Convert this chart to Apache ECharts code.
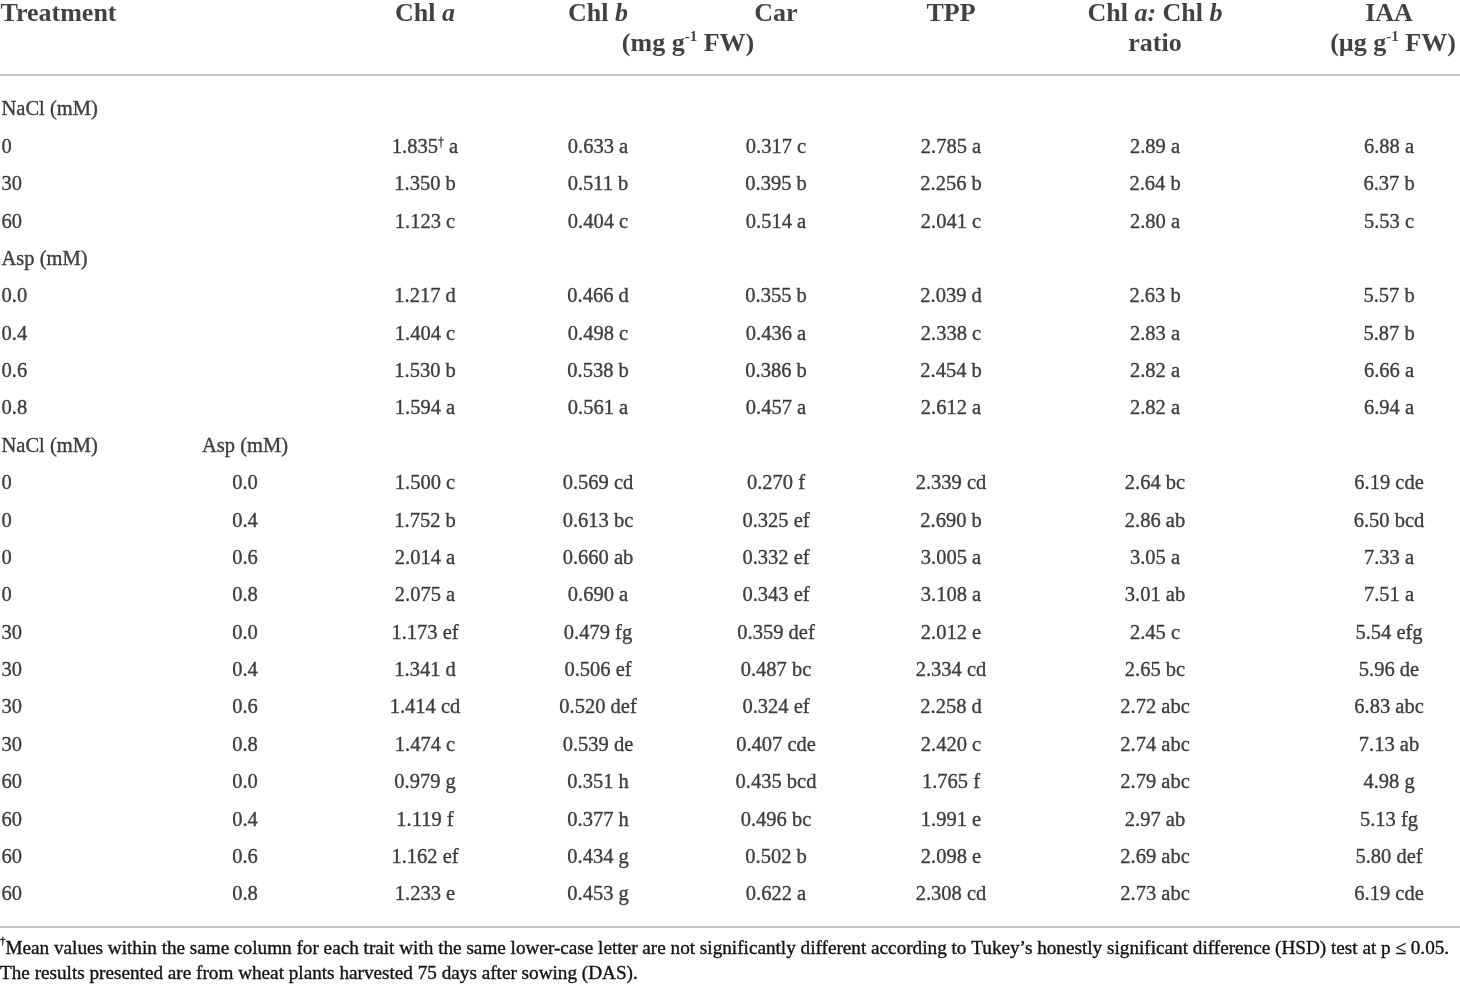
<!DOCTYPE html>
<html>
<head>
<meta charset="utf-8">
<script src="https://cdn.jsdelivr.net/npm/echarts@6/dist/echarts.min.js"></script>
<style>html,body{margin:0;padding:0;background:#fff;}</style>
</head>
<body>
<div id="main" style="width:1460px;height:986px;"></div>
<script>
// table content, one entry per body row (22 rows)
var rowLabels = ['NaCl (mM)', '0', '30', '60', 'Asp (mM)', '0.0', '0.4', '0.6', '0.8', 'NaCl (mM)',
    '0', '0', '0', '0', '30', '30', '30', '30', '60', '60', '60', '60'];
var aspLabels = ['', '', '', '', '', '', '', '', '', 'Asp (mM)',
    '0.0', '0.4', '0.6', '0.8', '0.0', '0.4', '0.6', '0.8', '0.0', '0.4', '0.6', '0.8'];

var chlA = [null, 1.835, 1.350, 1.123, null, 1.217, 1.404, 1.530, 1.594, null,
    1.500, 1.752, 2.014, 2.075, 1.173, 1.341, 1.414, 1.474, 0.979, 1.119, 1.162, 1.233];
var chlALet = ['', 'a', 'b', 'c', '', 'd', 'c', 'b', 'a', '',
    'c', 'b', 'a', 'a', 'ef', 'd', 'cd', 'c', 'g', 'f', 'ef', 'e'];

var chlB = [null, 0.633, 0.511, 0.404, null, 0.466, 0.498, 0.538, 0.561, null,
    0.569, 0.613, 0.660, 0.690, 0.479, 0.506, 0.520, 0.539, 0.351, 0.377, 0.434, 0.453];
var chlBLet = ['', 'a', 'b', 'c', '', 'd', 'c', 'b', 'a', '',
    'cd', 'bc', 'ab', 'a', 'fg', 'ef', 'def', 'de', 'h', 'h', 'g', 'g'];

var car = [null, 0.317, 0.395, 0.514, null, 0.355, 0.436, 0.386, 0.457, null,
    0.270, 0.325, 0.332, 0.343, 0.359, 0.487, 0.324, 0.407, 0.435, 0.496, 0.502, 0.622];
var carLet = ['', 'c', 'b', 'a', '', 'b', 'a', 'b', 'a', '',
    'f', 'ef', 'ef', 'ef', 'def', 'bc', 'ef', 'cde', 'bcd', 'bc', 'b', 'a'];

var tpp = [null, 2.785, 2.256, 2.041, null, 2.039, 2.338, 2.454, 2.612, null,
    2.339, 2.690, 3.005, 3.108, 2.012, 2.334, 2.258, 2.420, 1.765, 1.991, 2.098, 2.308];
var tppLet = ['', 'a', 'b', 'c', '', 'd', 'c', 'b', 'a', '',
    'cd', 'b', 'a', 'a', 'e', 'cd', 'd', 'c', 'f', 'e', 'e', 'cd'];

var ratio = [null, 2.89, 2.64, 2.80, null, 2.63, 2.83, 2.82, 2.82, null,
    2.64, 2.86, 3.05, 3.01, 2.45, 2.65, 2.72, 2.74, 2.79, 2.97, 2.69, 2.73];
var ratioLet = ['', 'a', 'b', 'a', '', 'b', 'a', 'a', 'a', '',
    'bc', 'ab', 'a', 'ab', 'c', 'bc', 'abc', 'abc', 'abc', 'ab', 'abc', 'abc'];

var iaa = [null, 6.88, 6.37, 5.53, null, 5.57, 5.87, 6.66, 6.94, null,
    6.19, 6.50, 7.33, 7.51, 5.54, 5.96, 6.83, 7.13, 4.98, 5.13, 5.80, 6.19];
var iaaLet = ['', 'a', 'b', 'c', '', 'b', 'b', 'a', 'a', '',
    'cde', 'bcd', 'a', 'a', 'efg', 'de', 'abc', 'ab', 'g', 'fg', 'def', 'cde'];

// header cells (rich text markup)
var headTop = ['{b|Treatment}', '', '{b|Chl }{bi|a}', '{b|Chl }{bi|b}', '{b|Car}', '{b|TPP}',
    '{b|Chl }{bi|a:}{b| Chl }{bi|b}', '{b|IAA}'];
var headBottom = ['', '', '', '', '', '', '{b|ratio}', '{b|(µg g}{bs|-1}{b| FW)}'];
var unitLabel = '{b|(mg g}{bs|-1}{b| FW)}';

var footnote1 = 'Mean values within the same column for each trait with the same lower-case letter are not significantly different according to Tukey\u2019s honestly significant difference (HSD) test at p \u2264 0.05.';
var footnote2 = 'The results presented are from wheat plants harvested 75 days after sowing (DAS).';
var footMarkRow = 1; // row of Chl a carrying the dagger

// layout
var colX = [1, 245, 425, 598, 776, 951, 1155, 1389];
var unitX = 688;
var FONT = 'Liberation Serif, Times New Roman, serif';
var INK = '#111111';

function plain(size, extra) {
    var s = { fontSize: size, fontFamily: FONT, fontWeight: 'normal', color: INK,
        textBorderColor: INK, textBorderWidth: 0.35 };
    for (var k in extra) s[k] = extra[k];
    return s;
}

var bodyRich = {
    n: plain(20.5, { lineHeight: 22 }),
    s: plain(12, { verticalAlign: 'top', lineHeight: 22 })
};
var headRich = {
    b: plain(26, { fontWeight: 'bold', lineHeight: 28, textBorderWidth: 0 }),
    bi: plain(26, { fontWeight: 'bold', fontStyle: 'italic', lineHeight: 28, textBorderWidth: 0 }),
    bs: plain(15, { fontWeight: 'bold', verticalAlign: 'top', lineHeight: 28, textBorderWidth: 0 })
};

function cell(vals, lets, dec, withMark) {
    return vals.map(function (v, i) {
        if (v === null) return '';
        var num = '{n|' + v.toFixed(dec) + '}';
        if (withMark && i === footMarkRow) num += '{s|\u2020}';
        return num + '{n| ' + lets[i] + '}';
    });
}

var bodyCols = [
    rowLabels.map(function (t) { return t ? '{n|' + t + '}' : ''; }),
    aspLabels.map(function (t) { return t ? '{n|' + t + '}' : ''; }),
    cell(chlA, chlALet, 3, true),
    cell(chlB, chlBLet, 3),
    cell(car, carLet, 3),
    cell(tpp, tppLet, 3),
    cell(ratio, ratioLet, 2),
    cell(iaa, iaaLet, 2)
];

function textSeries(xi, yi, points, left, rich) {
    return {
        type: 'scatter',
        xAxisIndex: xi,
        yAxisIndex: yi,
        silent: true,
        symbolSize: 1,
        itemStyle: { color: 'rgba(0,0,0,0)' },
        data: points,
        label: {
            show: true,
            position: left ? 'right' : 'inside',
            distance: 0,
            align: left ? 'left' : 'center',
            verticalAlign: 'middle',
            color: INK,
            formatter: function (p) { return p.data[2]; },
            rich: rich
        }
    };
}

var series = [];
bodyCols.forEach(function (col, c) {
    var pts = [];
    col.forEach(function (t, r) { if (t) pts.push([colX[c], r, t]); });
    series.push(textSeries(0, 0, pts, c === 0, bodyRich));
});

var headPts = [];
headTop.forEach(function (t, c) { if (t && c > 0) headPts.push([colX[c], 0, t]); });
headBottom.forEach(function (t, c) { if (t) headPts.push([colX[c] + (c === 7 ? 4 : 0), 1, t]); });
headPts.push([unitX, 1, unitLabel]);
series.push(textSeries(2, 1, headPts, false, headRich));
series.push(textSeries(2, 1, [[colX[0] - 1, 0, headTop[0]]], true, headRich));

var myChart = echarts.init(document.getElementById('main'));
var option = {
    animation: false,
    backgroundColor: '#ffffff',
    title: {
        left: 0,
        top: 936,
        text: '{s|\u2020}{n|' + footnote1 + '}\n{n|' + footnote2 + '}',
        textStyle: {
            fontWeight: 'normal',
            rich: {
                n: plain(19.2, { lineHeight: 25 }),
                s: plain(11, { verticalAlign: 'top', lineHeight: 25 })
            }
        },
        padding: 0
    },
    grid: [
        { left: 0, right: 0, top: 75, bottom: 59 },
        { left: 0, right: 0, top: 0, height: 75 }
    ],
    xAxis: [
        { gridIndex: 0, type: 'value', min: 0, max: 1460, position: 'top',
          axisLine: { show: true, onZero: false, lineStyle: { color: '#c4c4c4', width: 2 } },
          axisTick: { show: false }, axisLabel: { show: false }, splitLine: { show: false } },
        { gridIndex: 0, type: 'value', min: 0, max: 1460, position: 'bottom',
          axisLine: { show: true, onZero: false, lineStyle: { color: '#c4c4c4', width: 2 } },
          axisTick: { show: false }, axisLabel: { show: false }, splitLine: { show: false } },
        { gridIndex: 1, type: 'value', min: 0, max: 1460, show: false }
    ],
    yAxis: [
        { gridIndex: 0, type: 'value', inverse: true, min: -0.937, max: 21.857, show: false },
        { gridIndex: 1, type: 'value', inverse: true, min: -0.467, max: 2.033, show: false }
    ],
    series: series
};
myChart.setOption(option);
</script>
</body>
</html>
